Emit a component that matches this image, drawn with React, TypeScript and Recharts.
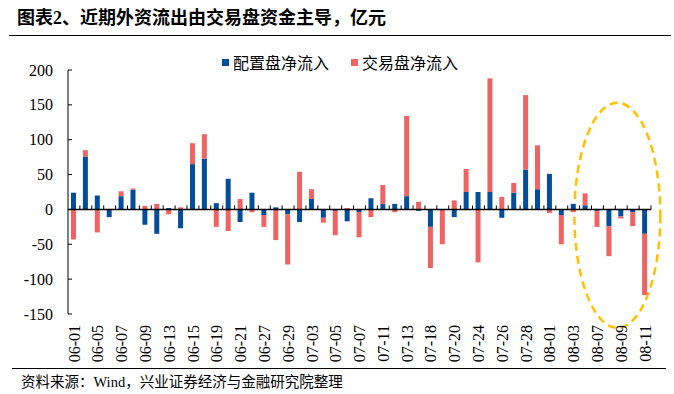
import { BarChart, Bar, XAxis, YAxis, ReferenceLine, ReferenceArea, Legend } from 'recharts'

const dates = [
  '06-01', '06-02', '06-05', '06-06', '06-07', '06-08', '06-09', '06-12', '06-13', '06-14',
  '06-15', '06-16', '06-19', '06-20', '06-21', '06-26', '06-27', '06-28', '06-29', '06-30',
  '07-03', '07-04', '07-05', '07-06', '07-07', '07-10', '07-11', '07-12', '07-13', '07-14',
  '07-18', '07-19', '07-20', '07-21', '07-24', '07-25', '07-26', '07-27', '07-28', '07-31',
  '08-01', '08-02', '08-03', '08-04', '08-07', '08-08', '08-09', '08-10', '08-11',
]

// 配置盘净流入
const allocationFlow = [
  24, 76, 20, -11, 19, 28, -22, -35, 2, -27,
  65, 73, 9, 44, -18, 24, -8, 3, -7, -18,
  15, -12, -2, -17, -4, 16, 8, 8, 19, -2,
  -25, 0, -11, 25, 25, 25, -12, 24, 57, 29,
  51, -8, 8, 6, -2, -24, -10, -4, -35,
]

// 交易盘净流入
const tradingFlow = [
  -43, 9, -33, 0, 7, 2, 5, 8, -7, 3,
  30, 35, -25, -31, 15, -4, -17, -44, -72, 54,
  14, -7, -35, 2, -36, -11, 27, -4, 115, 11,
  -59, -50, 13, 33, -76, 163, 18, 14, 107, 63,
  -5, -42, -4, 17, -23, -43, -3, -20, -88,
]

const seriesNames = ['配置盘净流入', '交易盘净流入']
const yTicks = [-150, -100, -50, 0, 50, 100, 150, 200]

const BLUE = '#034E9A'
const RED = '#F06363'
const SERIF = '"Liberation Serif", "Noto Sans CJK SC", serif'
const CJK = '"Noto Sans CJK SC", sans-serif'

const data = dates.map((d, i) => ({
  date: d,
  [seriesNames[0]]: allocationFlow[i],
  [seriesNames[1]]: tradingFlow[i],
}))

function YTick({ x, y, payload }: any) {
  return (
    <g>
      <text x={x} y={y} dy="0.35em" textAnchor="end" fontSize={16} fontFamily={SERIF} fill="#000">
        {payload.value}
      </text>
      <line x1={x + 15} x2={x + 19} y1={y} y2={y} stroke="#000" strokeWidth={1} />
    </g>
  )
}

function XTick({ x, y, payload }: any) {
  const ty = y + 11
  return (
    <text
      x={x}
      y={ty}
      dy="0.35em"
      textAnchor="end"
      transform={`rotate(-90, ${x}, ${ty})`}
      fontSize={16}
      fontFamily={SERIF}
      fill="#000"
    >
      {payload.value}
    </text>
  )
}

function ZeroAxis(props: any) {
  const { x1, x2, y1 } = props
  const step = (x2 - x1) / dates.length
  return (
    <g>
      <line x1={x1} x2={x2} y1={y1} y2={y1} stroke="#000" strokeWidth={1.5} />
      {dates.map((_, k) => (
        <line key={k} x1={x1 + (k + 1) * step} x2={x1 + (k + 1) * step} y1={y1} y2={y1 - 4} stroke="#000" strokeWidth={1} />
      ))}
    </g>
  )
}

function Ellipse({ x, y, width, height }: any) {
  return (
    <ellipse
      cx={x + width / 2 + 8}
      cy={y + height / 2}
      rx={43}
      ry={height / 2}
      fill="none"
      stroke="#FFC000"
      strokeWidth={2.5}
      strokeDasharray="8 5"
    />
  )
}

function LegendContent({ payload }: any) {
  const items = seriesNames.map((n) => payload.find((p: any) => p.value === n)).filter(Boolean)
  return (
    <div style={{ display: 'flex', justifyContent: 'flex-start', paddingLeft: 222, fontFamily: CJK, fontSize: 16 }}>
      {items.map((p: any, i: number) => (
        <div key={p.value} style={{ display: 'flex', alignItems: 'center', marginRight: i === 0 ? 22 : 0 }}>
          <span style={{ display: 'inline-block', width: 7, height: 7, background: p.color, marginRight: 4 }} />
          <span style={{ color: '#000' }}>{p.value}</span>
        </div>
      ))}
    </div>
  )
}

export default function App() {
  return (
    <div style={{ position: 'absolute', left: 0, top: 0, width: 674, height: 394, background: '#fff' }}>
      <div style={{ position: 'absolute', left: 17, top: 8, fontFamily: SERIF, fontWeight: 'bold', fontSize: 18, lineHeight: '20px', color: '#000' }}>
        图表2、近期外资流出由交易盘资金主导，亿元
      </div>
      <div style={{ position: 'absolute', left: 9, top: 35, width: 662, height: 1, background: '#000' }} />
      <BarChart
        width={674}
        height={394}
        data={data}
        stackOffset="sign"
        margin={{ top: 70, right: 23, bottom: 0, left: 8 }}
      >
        <XAxis dataKey="date" interval={1} tickLine={false} axisLine={false} tickSize={0} tickMargin={0} height={80} tick={<XTick />} />
        <YAxis
          domain={[-150, 200]}
          ticks={yTicks}
          width={60}
          tickLine={false}
          tickSize={0}
          tickMargin={15}
          axisLine={{ stroke: '#000', strokeWidth: 1 }}
          tick={<YTick />}
        />
        <Legend
          verticalAlign="middle"
          layout="horizontal"
          wrapperStyle={{ top: 50, left: 0, width: 674 }}
          content={<LegendContent />}
        />
        <Bar dataKey={seriesNames[0]} stackId="a" fill={BLUE} barSize={5} isAnimationActive={false} />
        <Bar dataKey={seriesNames[1]} stackId="a" fill={RED} barSize={5} isAnimationActive={false} />
        <ReferenceLine y={0} shape={<ZeroAxis />} />
        <ReferenceArea x1="08-03" x2="08-11" y1={-170} y2={153} ifOverflow="visible" shape={<Ellipse />} />
      </BarChart>
      <div style={{ position: 'absolute', left: 12, top: 368, width: 654, height: 1, background: '#000' }} />
      <div style={{ position: 'absolute', left: 21, top: 373, fontFamily: SERIF, fontSize: 14.5, lineHeight: '18px', color: '#000' }}>
        资料来源：Wind，兴业证券经济与金融研究院整理
      </div>
    </div>
  )
}
